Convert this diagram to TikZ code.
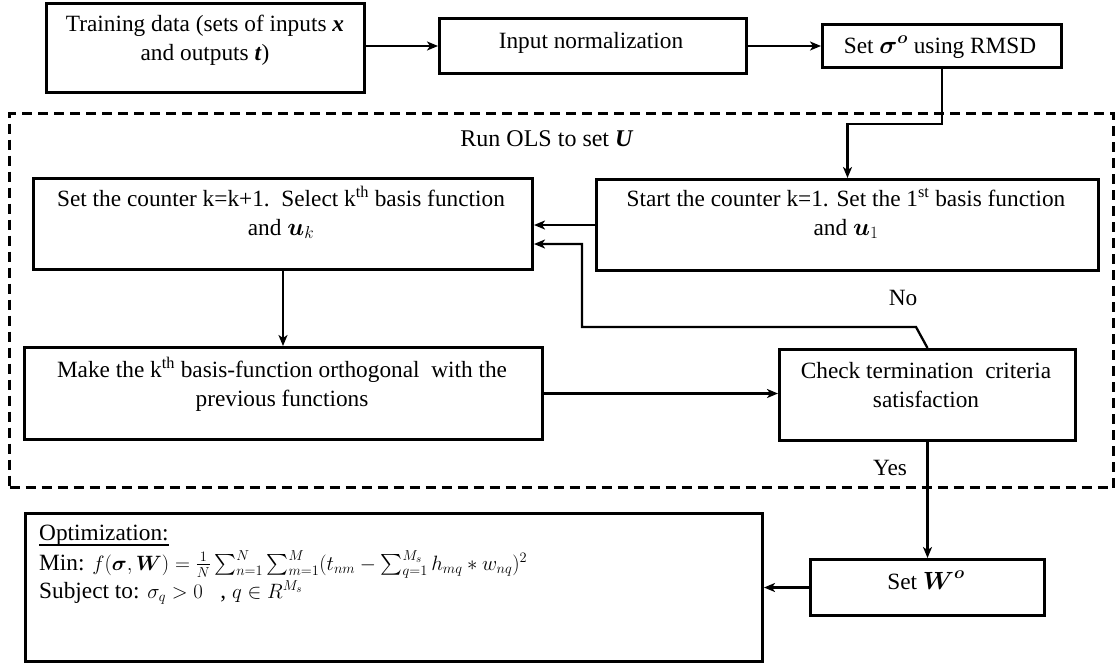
\documentclass[tikz,border=0pt]{standalone}
\usepackage{amsmath}
\usepackage{fontspec}
\setmainfont{Liberation Serif}
\usetikzlibrary{arrows.meta}
\newcommand{\mathsz}{\fontsize{22}{26}\selectfont}
\begin{document}
\begin{tikzpicture}[x=1pt,y=-1pt,
  box/.style={draw, line width=3pt, inner sep=0pt, anchor=north west},
  txt/.style={font=\fontsize{23.3}{28.5}\selectfont, align=center, inner sep=0pt, anchor=base},
  lbl/.style={font=\fontsize{23.3}{28.5}\selectfont, inner sep=0pt, anchor=base},
  lft/.style={font=\fontsize{23.3}{28.5}\selectfont, inner sep=0pt, anchor=base west},
  arr/.style={line width=2.3pt, -{Stealth[length=11pt,width=9pt,inset=3pt]}},
]
\useasboundingbox (0,0) rectangle (1118,665);

% boxes
\node[box, minimum width=318pt, minimum height=89.5pt] (train) at (45,1.5) {};
\node[box, minimum width=307pt, minimum height=55pt] (input) at (438,17) {};
\node[box, minimum width=239pt, minimum height=43pt] (sigma) at (821,23) {};
\node[draw, dash pattern=on 10pt off 6pt, line width=3pt, inner sep=0pt, anchor=north west,
      minimum width=1104pt, minimum height=374pt] (olsbox) at (8,112) {};
\node[box, minimum width=499pt, minimum height=91pt] (counter) at (32,177) {};
\node[box, minimum width=502pt, minimum height=91pt] (start) at (595,178) {};
\node[box, minimum width=518pt, minimum height=92pt] (make) at (23,346) {};
\node[box, minimum width=296pt, minimum height=91pt] (check) at (778,348) {};
\node[box, minimum width=234pt, minimum height=56pt] (setW) at (809,558) {};
\node[box, minimum width=737pt, minimum height=148pt] (opt) at (24,512) {};

% texts
\node[txt] (trainT) at (205,60) {Training data (sets of inputs \textbf{\textit{x}}\\and outputs \textbf{\textit{t}})};
\node[lbl] (inputT) at (591,48) {Input normalization};
\node[lbl] (sigmaT) at (940,53) {Set $\boldsymbol{\sigma}^{\boldsymbol{o}}$ using RMSD};
\node[lbl, font=\fontsize{24}{29}\selectfont] (olsT) at (547,146) {Run OLS to set \textbf{\textit{U}}};
\node[txt] (counterT) at (281,235) {Set the counter k=k+1.\ \ Select k\textsuperscript{th} basis function\\and $\boldsymbol{u}_k$};
\node[txt] (startT) at (846,235) {Start the counter k=1. Set the 1\textsuperscript{st} basis function\\and $\boldsymbol{u}_1$};
\node[txt] (makeT) at (282,406) {Make the k\textsuperscript{th} basis-function orthogonal\ \ with the\\previous functions};
\node[txt] (checkT) at (926,407) {Check termination\ \ criteria\\satisfaction};
\node[lbl] (noT) at (903,305) {No};
\node[lbl] (yesT) at (890,475) {Yes};
\node[lbl] (setWT) at (926,589) {Set $\boldsymbol{W}^{\boldsymbol{o}}$};
\node[lft] (opt1) at (39,540) {Optimization:};
\draw[line width=1.2pt] (opt1.base west) ++(0,5) -- ([yshift=-5pt]opt1.base east);
\node[lft] (opt2) at (39,570) {Min: {\mathsz$f(\boldsymbol{\sigma},\boldsymbol{W})=\frac{1}{N}\sum_{n=1}^{N}\sum_{m=1}^{M}(t_{nm}-\sum_{q=1}^{M_s}h_{mq}*w_{nq})^2$}};
\node[lft] (opt3) at (39,598) {Subject to: {\mathsz$\sigma_q>0$}\ \ \ , {\mathsz$q\in R^{M_s}$}};

% connectors
\coordinate (loopA) at (916,327);
\coordinate (loopB) at (582,327);
\coordinate (loopC) at (582,244);
\draw[arr] (train.east |- input.west) -- (input.west);
\draw[arr] (input.east) -- (sigma.west |- input.east);
\draw[arr] (sigma.south) -- ++(0,55) -| (start.north);
\draw[arr] (start.west) -- (counter.east |- start.west);
\draw[arr] (counter.south) -- (counter.south |- make.north);
\draw[arr] (make.east) -- (check.west |- make.east);
\draw[arr] (check.north) -- (loopA) -- (loopB) -- (loopC) -- (counter.east |- loopC);
\draw[arr] (check.south) -- (setW.north);
\draw[arr] (setW.west) -- (opt.east |- setW.west);
\end{tikzpicture}
\end{document}
